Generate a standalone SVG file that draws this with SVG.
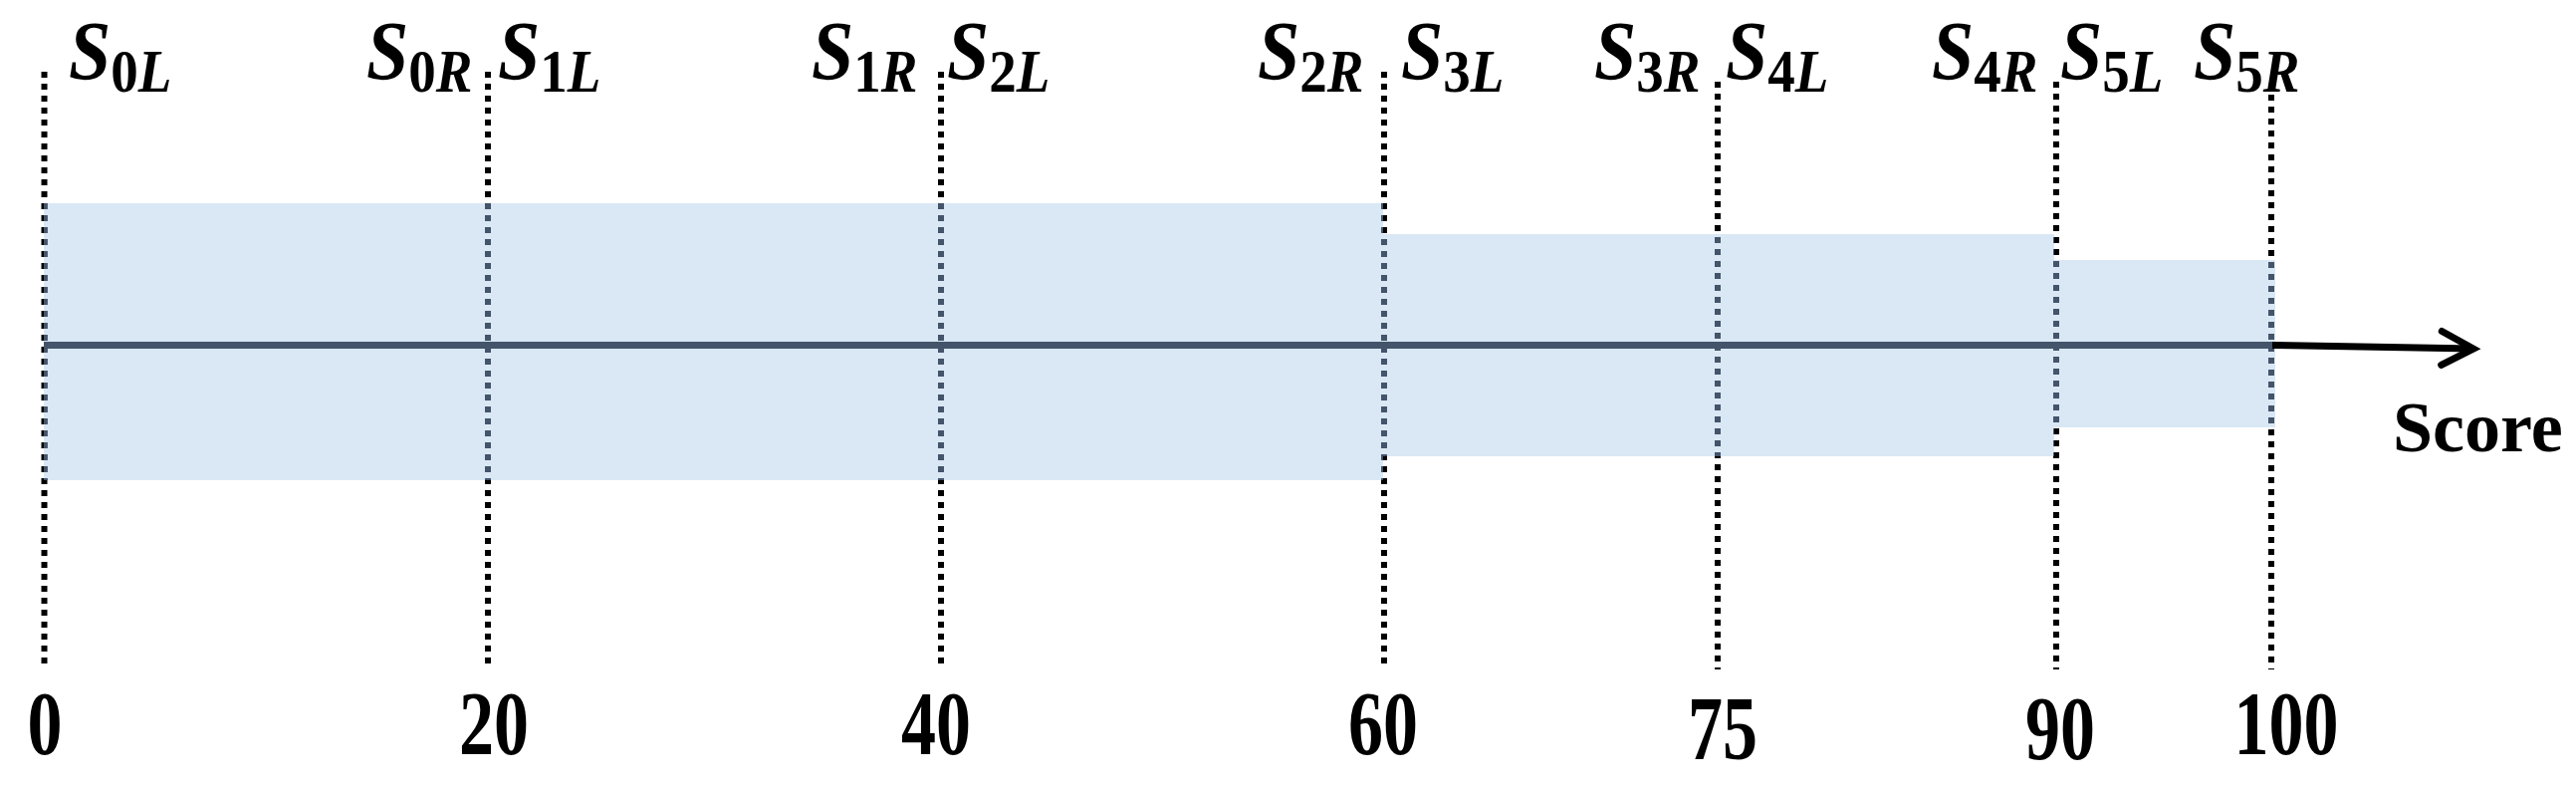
<svg xmlns="http://www.w3.org/2000/svg" xmlns:xlink="http://www.w3.org/1999/xlink" width="2587" height="795" viewBox="0 0 2587 795">
  <style>
    .band { fill: #DAE8F5; }
    .guide { fill: none; stroke-width: 6; stroke-dasharray: 6 6; }
    .axis { fill: none; stroke-width: 7; }
    .arrow { fill: none; stroke: #000; stroke-width: 7; }
    .num { font-family: "Liberation Serif", "Times New Roman", serif; font-weight: bold; font-size: 70px; text-anchor: middle; fill: #000; }
    .score { font-family: "Liberation Serif", "Times New Roman", serif; font-weight: bold; font-size: 72px; fill: #000; }
    .sym { font-family: "Liberation Serif", "Times New Roman", serif; font-weight: bold; font-style: italic; font-size: 76px; fill: #000; }
    .sd { font-style: normal; font-size: 55px; }
    .sl { font-style: italic; font-size: 55px; }
  </style>
  <defs>
    <clipPath id="bandClip">
      <rect x="44" y="204" width="1345" height="278"/>
      <rect x="1389" y="235" width="674" height="223"/>
      <rect x="2063" y="261" width="222" height="168"/>
    </clipPath>
    <marker id="openArrow" markerUnits="userSpaceOnUse" markerWidth="50" markerHeight="50" viewBox="-5 -5 50 50" refX="34" refY="17" orient="auto">
      <path d="M2,0 L34,17 L2,34" fill="none" stroke="#000" stroke-width="7" stroke-linecap="round" stroke-linejoin="miter"/>
    </marker>
  </defs>

  <g id="bands">
    <rect id="band-0-60" class="band" x="44" y="204" width="1345" height="278"/>
    <rect id="band-60-90" class="band" x="1389" y="235" width="674" height="223"/>
    <rect id="band-90-100" class="band" x="2063" y="261" width="222" height="168"/>
  </g>

  <g id="connectors">
    <g id="lineset-black" stroke="#000">
      <g id="lineset">
        <line class="guide" x1="44.5" y1="72" x2="44.5" y2="672"/>
        <line class="guide" x1="490" y1="72" x2="490" y2="672"/>
        <line class="guide" x1="945" y1="72" x2="945" y2="672"/>
        <line class="guide" x1="1390" y1="72" x2="1390" y2="672"/>
        <line class="guide" x1="1725" y1="82" x2="1725" y2="672"/>
        <line class="guide" x1="2065" y1="82" x2="2065" y2="672"/>
        <line class="guide" x1="2281" y1="95" x2="2281" y2="672"/>
        <line class="axis" x1="44" y1="346.5" x2="2285" y2="346.5"/>
      </g>
    </g>
    <use xlink:href="#lineset" href="#lineset" stroke="#44546A" clip-path="url(#bandClip)"/>
    <line id="score-arrow" class="arrow" x1="2282" y1="346.5" x2="2484" y2="350" marker-end="url(#openArrow)"/>
  </g>

  <g id="labels-top">
    <text class="sym" transform="translate(69,80) scale(1,1.1)">S<tspan class="sd" dy="11">0</tspan><tspan class="sl">L</tspan></text>
    <text class="sym" transform="translate(368,80) scale(1,1.1)">S<tspan class="sd" dy="11">0</tspan><tspan class="sl">R</tspan></text>
    <text class="sym" transform="translate(500,80) scale(1,1.1)">S<tspan class="sd" dy="11">1</tspan><tspan class="sl">L</tspan></text>
    <text class="sym" transform="translate(815,80) scale(1,1.1)">S<tspan class="sd" dy="11">1</tspan><tspan class="sl">R</tspan></text>
    <text class="sym" transform="translate(951,80) scale(1,1.1)">S<tspan class="sd" dy="11">2</tspan><tspan class="sl">L</tspan></text>
    <text class="sym" transform="translate(1263,80) scale(1,1.1)">S<tspan class="sd" dy="11">2</tspan><tspan class="sl">R</tspan></text>
    <text class="sym" transform="translate(1407,80) scale(1,1.1)">S<tspan class="sd" dy="11">3</tspan><tspan class="sl">L</tspan></text>
    <text class="sym" transform="translate(1601,80) scale(1,1.1)">S<tspan class="sd" dy="11">3</tspan><tspan class="sl">R</tspan></text>
    <text class="sym" transform="translate(1733,80) scale(1,1.1)">S<tspan class="sd" dy="11">4</tspan><tspan class="sl">L</tspan></text>
    <text class="sym" transform="translate(1940,80) scale(1,1.1)">S<tspan class="sd" dy="11">4</tspan><tspan class="sl">R</tspan></text>
    <text class="sym" transform="translate(2069,80) scale(1,1.1)">S<tspan class="sd" dy="11">5</tspan><tspan class="sl">L</tspan></text>
    <text class="sym" transform="translate(2203,80) scale(1,1.1)">S<tspan class="sd" dy="11">5</tspan><tspan class="sl">R</tspan></text>
  </g>

  <g id="labels-bottom">
    <text class="num" transform="translate(45,757) scale(1,1.3)">0</text>
    <text class="num" transform="translate(496,757) scale(1,1.3)">20</text>
    <text class="num" transform="translate(940,757) scale(1,1.3)">40</text>
    <text class="num" transform="translate(1389,757) scale(1,1.3)">60</text>
    <text class="num" transform="translate(1730,762) scale(1,1.3)">75</text>
    <text class="num" transform="translate(2069,762) scale(1,1.3)">90</text>
    <text class="num" transform="translate(2296,757) scale(1,1.3)">100</text>
  </g>

  <g id="axis-label">
    <text class="score" x="2403" y="453">Score</text>
  </g>
</svg>
